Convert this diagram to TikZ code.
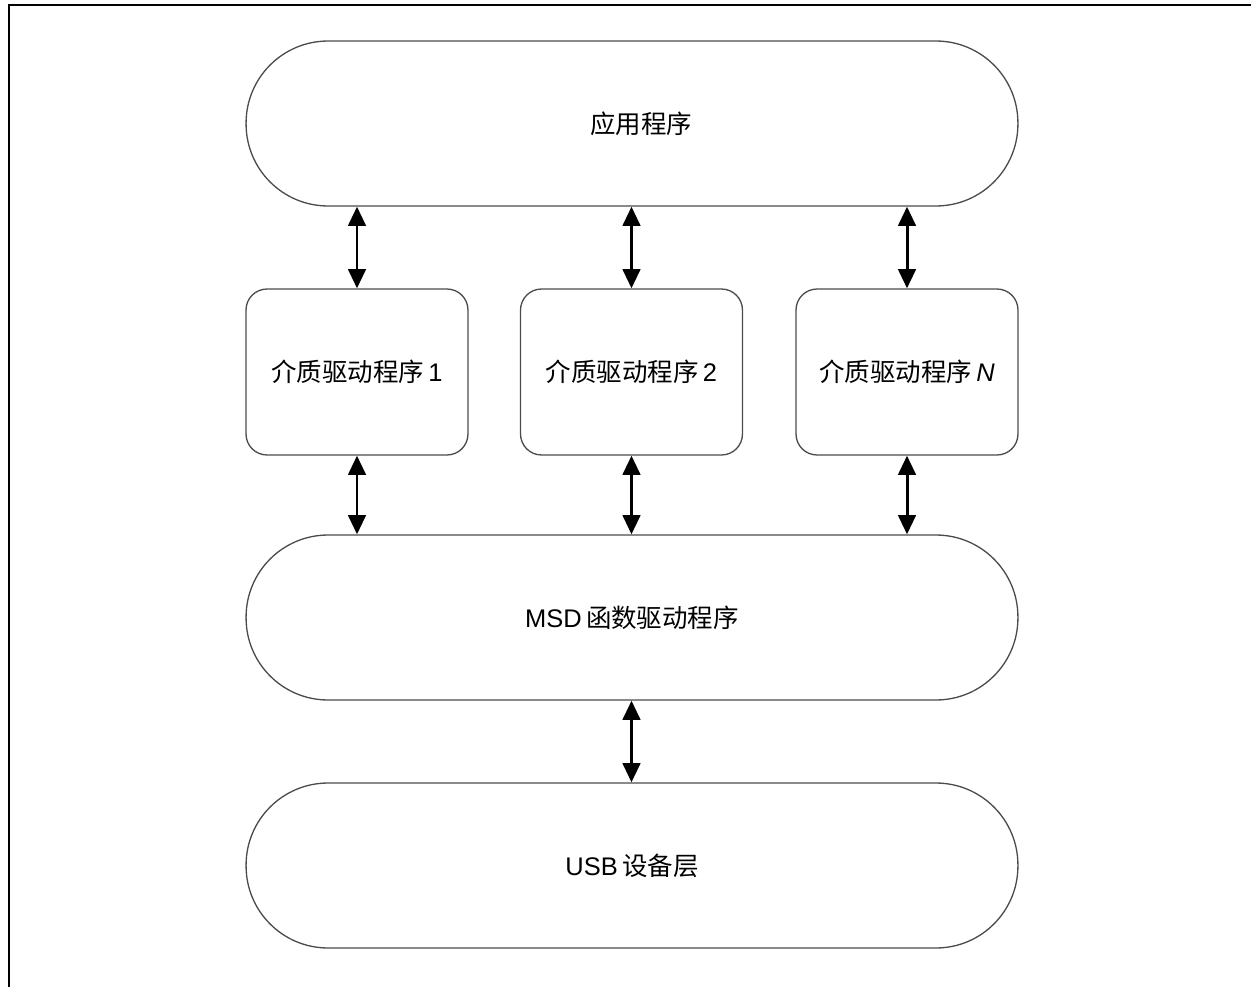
\documentclass[tikz,border=0pt]{standalone}
\usepackage{fontspec}
\setmainfont{Liberation Sans}
\newfontfamily\cjk{Noto Sans CJK SC}
\usetikzlibrary{arrows.meta}
\begin{document}
\begin{tikzpicture}[x=0.02cm,y=-0.02cm,
  box/.style={draw=black!70, line width=0.75pt, fill=white, align=center,
    font=\fontsize{14.5pt}{17pt}\selectfont, inner sep=0pt},
  stadium/.style={box, minimum width=15.44cm, minimum height=3.3cm, rounded corners=1.64cm},
  driver/.style={box, minimum width=4.44cm, minimum height=3.32cm, rounded corners=0.42cm},
  dbl/.style={{Triangle[width=10pt,length=11pt]}-{Triangle[width=10pt,length=11pt]}, line width=1.7pt}
]
\useasboundingbox (0,0) rectangle (1251,987);
\draw[line width=1.2pt] (9,987) -- (9,5) -- (1251,5);

\node[stadium] (app) at (632,123.5) {\hspace*{0.36cm}{\cjk 应用程序}};
\node[driver] (d1) at (357,372) {{\cjk 介质驱动程序}\,1};
\node[driver] (d2) at (631.5,372) {{\cjk 介质驱动程序}\,2};
\node[driver] (dn) at (907,372) {{\cjk 介质驱动程序}\,\textit{N}};
\node[stadium] (msd) at (632,617.5) {MSD\,{\cjk 函数驱动程序}};
\node[stadium] (usb) at (632,865.5) {USB\,{\cjk 设备层}};

\draw[dbl] (app.south -| d1.north) -- (d1.north);
\draw[dbl] (app.south -| d2.north) -- (d2.north);
\draw[dbl] (app.south -| dn.north) -- (dn.north);
\draw[dbl] (d1.south) -- (msd.north -| d1.south);
\draw[dbl] (d2.south) -- (msd.north -| d2.south);
\draw[dbl] (dn.south) -- (msd.north -| dn.south);
\draw[dbl] (msd.south -| d2.south) -- (usb.north -| d2.south);
\end{tikzpicture}
\end{document}
